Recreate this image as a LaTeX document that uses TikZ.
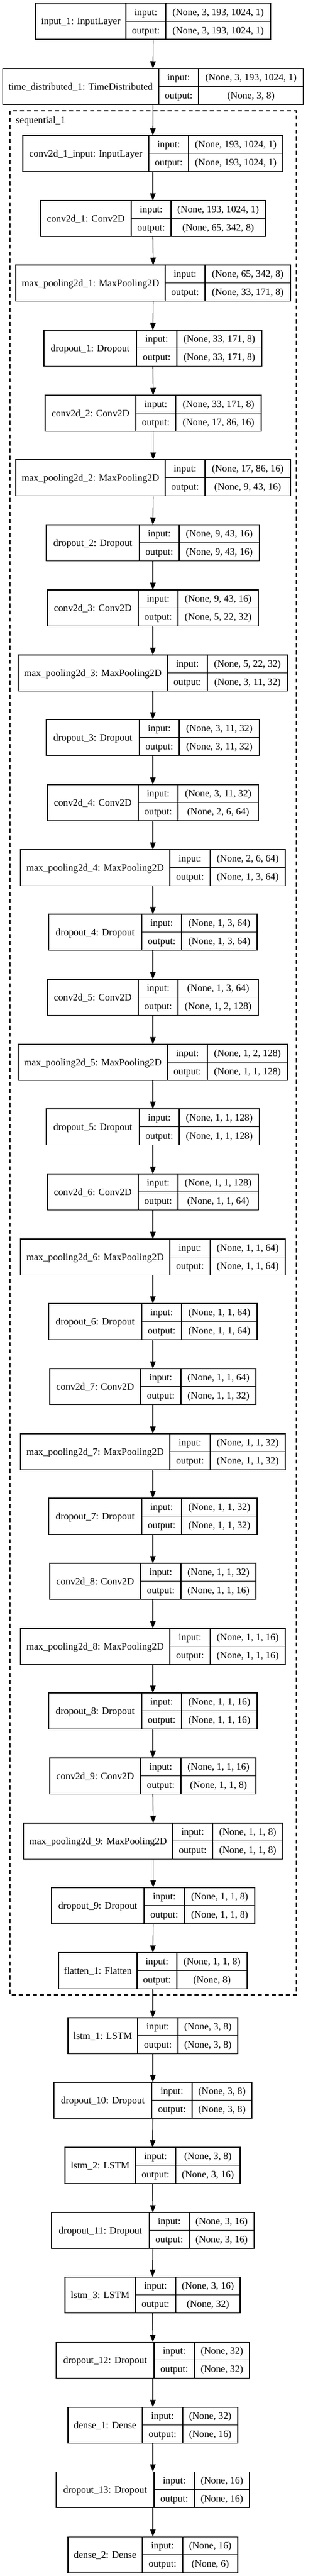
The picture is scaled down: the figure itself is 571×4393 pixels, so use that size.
\documentclass[tikz,border=0pt]{standalone}
\usepackage{fontspec}
\setmainfont{Liberation Serif}
\usetikzlibrary{arrows.meta}
\tikzset{
  layerbox/.style={draw, line width=1.1pt, inner sep=0pt, outer sep=0pt, anchor=north west},
  celltext/.style={inner sep=0pt, text height=13.5pt, text depth=2.5pt, font=\fontsize{16.7}{20}\selectfont},
  cellline/.style={line width=1.1pt},
  flow/.style={line width=1.1pt, -{Triangle[length=12.5pt,width=9.5pt]}},
  clusterbox/.style={draw, dash pattern=on 7pt off 5pt, line width=1.1pt},
}
\newcommand{\kerasnode}[9]{%
  \node[layerbox, minimum width={(#6-#3)*1pt}, minimum height=61.3pt] (#1) at (#3,-#2) {};
  \draw[cellline] (#4,-#2) -- (#4,{-#2-61.3});
  \draw[cellline] (#5,-#2) -- (#5,{-#2-61.3});
  \draw[cellline] (#4,{-#2-30.65}) -- (#6,{-#2-30.65});
  \node[celltext] (#1-name) at ({(#3+#4)/2},{-#2-30.65}) {#7};
  \node[celltext] (#1-inl) at ({(#4+#5)/2},{-#2-15.3}) {input:};
  \node[celltext] (#1-outl) at ({(#4+#5)/2},{-#2-46}) {output:};
  \node[celltext] (#1-inv) at ({(#5+#6)/2},{-#2-15.3}) {#8};
  \node[celltext] (#1-outv) at ({(#5+#6)/2},{-#2-46}) {#9};
}
\begin{document}
\begin{tikzpicture}[x=1pt,y=1pt]
\useasboundingbox (0,0) rectangle (571,-4393);
\draw[clusterbox] (17,-189) rectangle (506,-3402);
\node[celltext, anchor=base west] (seqlabel) at (27,-210) {sequential\_1};

\kerasnode{input1}{5.7}{61}{215}{283}{462}{input\_1: InputLayer}{(None, 3, 193, 1024, 1)}{(None, 3, 193, 1024, 1)}
\kerasnode{td1}{117}{4.3}{271}{339}{518}{time\_distributed\_1: TimeDistributed}{(None, 3, 193, 1024, 1)}{(None, 3, 8)}
\kerasnode{c1in}{231}{39}{254}{322}{483}{conv2d\_1\_input: InputLayer}{(None, 193, 1024, 1)}{(None, 193, 1024, 1)}
\kerasnode{c1}{342}{69}{224}{292}{453}{conv2d\_1: Conv2D}{(None, 193, 1024, 1)}{(None, 65, 342, 8)}
\kerasnode{mp1}{452}{27}{282}{350}{496}{max\_pooling2d\_1: MaxPooling2D}{(None, 65, 342, 8)}{(None, 33, 171, 8)}
\kerasnode{do1}{563}{75}{233}{302}{447}{dropout\_1: Dropout}{(None, 33, 171, 8)}{(None, 33, 171, 8)}
\kerasnode{c2}{674}{77}{232}{300}{446}{conv2d\_2: Conv2D}{(None, 33, 171, 8)}{(None, 17, 86, 16)}
\kerasnode{mp2}{784}{27}{282}{350}{496}{max\_pooling2d\_2: MaxPooling2D}{(None, 17, 86, 16)}{(None, 9, 43, 16)}
\kerasnode{do2}{895}{79}{238}{306}{443}{dropout\_2: Dropout}{(None, 9, 43, 16)}{(None, 9, 43, 16)}
\kerasnode{c3}{1006}{81}{236}{304}{441}{conv2d\_3: Conv2D}{(None, 9, 43, 16)}{(None, 5, 22, 32)}
\kerasnode{mp3}{1117}{31}{286}{354}{491}{max\_pooling2d\_3: MaxPooling2D}{(None, 5, 22, 32)}{(None, 3, 11, 32)}
\kerasnode{do3}{1227}{79}{238}{306}{443}{dropout\_3: Dropout}{(None, 3, 11, 32)}{(None, 3, 11, 32)}
\kerasnode{c4}{1338}{81}{236}{304}{441}{conv2d\_4: Conv2D}{(None, 3, 11, 32)}{(None, 2, 6, 64)}
\kerasnode{mp4}{1449}{35}{290}{359}{487}{max\_pooling2d\_4: MaxPooling2D}{(None, 2, 6, 64)}{(None, 1, 3, 64)}
\kerasnode{do4}{1559}{83}{242}{310}{439}{dropout\_4: Dropout}{(None, 1, 3, 64)}{(None, 1, 3, 64)}
\kerasnode{c5}{1670}{81}{236}{304}{441}{conv2d\_5: Conv2D}{(None, 1, 3, 64)}{(None, 1, 2, 128)}
\kerasnode{mp5}{1781}{31}{286}{354}{491}{max\_pooling2d\_5: MaxPooling2D}{(None, 1, 2, 128)}{(None, 1, 1, 128)}
\kerasnode{do5}{1891}{79}{238}{306}{443}{dropout\_5: Dropout}{(None, 1, 1, 128)}{(None, 1, 1, 128)}
\kerasnode{c6}{2002}{81}{236}{304}{441}{conv2d\_6: Conv2D}{(None, 1, 1, 128)}{(None, 1, 1, 64)}
\kerasnode{mp6}{2113}{35}{290}{359}{487}{max\_pooling2d\_6: MaxPooling2D}{(None, 1, 1, 64)}{(None, 1, 1, 64)}
\kerasnode{do6}{2223}{83}{242}{310}{439}{dropout\_6: Dropout}{(None, 1, 1, 64)}{(None, 1, 1, 64)}
\kerasnode{c7}{2334}{85}{240}{309}{437}{conv2d\_7: Conv2D}{(None, 1, 1, 64)}{(None, 1, 1, 32)}
\kerasnode{mp7}{2445}{35}{290}{359}{487}{max\_pooling2d\_7: MaxPooling2D}{(None, 1, 1, 32)}{(None, 1, 1, 32)}
\kerasnode{do7}{2555}{83}{242}{310}{439}{dropout\_7: Dropout}{(None, 1, 1, 32)}{(None, 1, 1, 32)}
\kerasnode{c8}{2666}{85}{240}{309}{437}{conv2d\_8: Conv2D}{(None, 1, 1, 32)}{(None, 1, 1, 16)}
\kerasnode{mp8}{2777}{35}{290}{359}{487}{max\_pooling2d\_8: MaxPooling2D}{(None, 1, 1, 16)}{(None, 1, 1, 16)}
\kerasnode{do8}{2887}{83}{242}{310}{439}{dropout\_8: Dropout}{(None, 1, 1, 16)}{(None, 1, 1, 16)}
\kerasnode{c9}{2998}{85}{240}{309}{437}{conv2d\_9: Conv2D}{(None, 1, 1, 16)}{(None, 1, 1, 8)}
\kerasnode{mp9}{3109}{40}{295}{363}{483}{max\_pooling2d\_9: MaxPooling2D}{(None, 1, 1, 8)}{(None, 1, 1, 8)}
\kerasnode{do9}{3219}{88}{246}{315}{435}{dropout\_9: Dropout}{(None, 1, 1, 8)}{(None, 1, 1, 8)}
\kerasnode{fl1}{3330}{100}{234}{302}{422}{flatten\_1: Flatten}{(None, 1, 1, 8)}{(None, 8)}
\kerasnode{ls1}{3441}{116}{235}{304}{406}{lstm\_1: LSTM}{(None, 3, 8)}{(None, 3, 8)}
\kerasnode{do10}{3551}{92}{259}{328}{430}{dropout\_10: Dropout}{(None, 3, 8)}{(None, 3, 8)}
\kerasnode{ls2}{3662}{111}{231}{300}{410}{lstm\_2: LSTM}{(None, 3, 8)}{(None, 3, 16)}
\kerasnode{do11}{3773}{88}{255}{323}{434}{dropout\_11: Dropout}{(None, 3, 16)}{(None, 3, 16)}
\kerasnode{ls3}{3883}{111}{231}{300}{410}{lstm\_3: LSTM}{(None, 3, 16)}{(None, 32)}
\kerasnode{do12}{3994}{96}{263}{332}{426}{dropout\_12: Dropout}{(None, 32)}{(None, 32)}
\kerasnode{de1}{4105}{116}{243}{312}{406}{dense\_1: Dense}{(None, 32)}{(None, 16)}
\kerasnode{do13}{4215}{96}{263}{332}{426}{dropout\_13: Dropout}{(None, 16)}{(None, 16)}
\kerasnode{de2}{4326}{116}{243}{312}{406}{dense\_2: Dense}{(None, 16)}{(None, 6)}

\foreach \a/\b in {input1/td1, td1/c1in, c1in/c1, c1/mp1, mp1/do1, do1/c2, c2/mp2, mp2/do2, do2/c3, c3/mp3, mp3/do3, do3/c4, c4/mp4, mp4/do4, do4/c5, c5/mp5, mp5/do5, do5/c6, c6/mp6, mp6/do6, do6/c7, c7/mp7, mp7/do7, do7/c8, c8/mp8, mp8/do8, do8/c9, c9/mp9, mp9/do9, do9/fl1, fl1/ls1, ls1/do10, do10/ls2, ls2/do11, do11/ls3, ls3/do12, do12/de1, de1/do13, do13/de2}
  \draw[flow] (\a.south) -- (\b.north);
\end{tikzpicture}
\end{document}
